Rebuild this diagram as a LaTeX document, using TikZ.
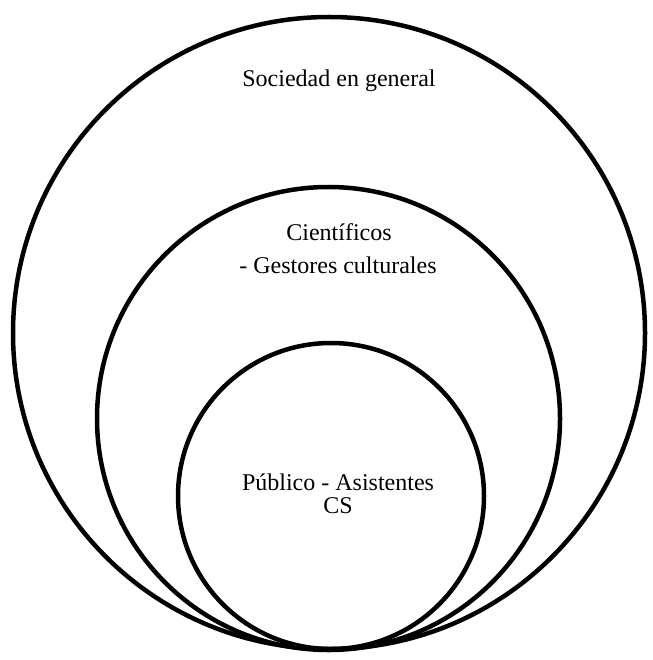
\documentclass[tikz,border=0pt]{standalone}
\usepackage{fontspec}
\setmainfont{Liberation Serif}
\begin{document}
\begin{tikzpicture}[x=1pt,y=-1pt,
  ring/.style={draw=black,line width=4.5pt,circle,inner sep=0pt},
  lbl/.style={font=\fontsize{24}{26}\selectfont,inner sep=0pt,align=center}]
\useasboundingbox (0,0) rectangle (652,660);
% nested circles, all touching at the bottom
\node[ring,minimum size=632pt] (outer) at (329,333) {};
\node[ring,minimum size=463pt] (middle) at (328.5,418.5) {};
\node[ring,minimum size=306pt] (inner) at (331,496) {};
% labels
\node[lbl,anchor=base] (soc) at (339,87) {Sociedad en general};
\node[lbl,anchor=base] (cie) at (339,240) {Científicos};
\node[lbl,anchor=base] (ges) at (338,273) {- Gestores culturales};
\node[lbl,anchor=base] (pub) at (338,490) {Público - Asistentes};
\node[lbl,anchor=base] (cs) at (338,513) {CS};
\end{tikzpicture}
\end{document}
